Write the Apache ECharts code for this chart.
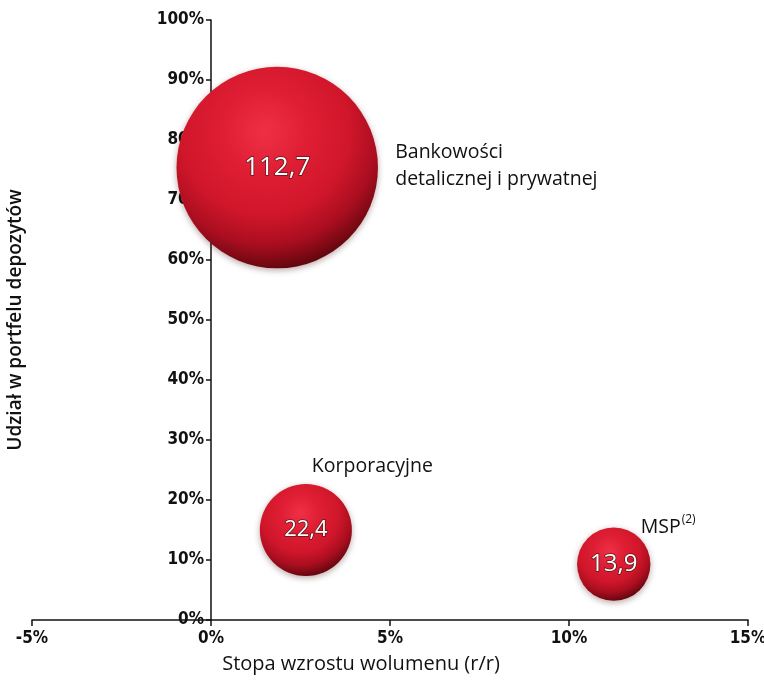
<!DOCTYPE html>
<html>
<head>
<meta charset="utf-8">
<style>
  html, body { margin: 0; padding: 0; background: #ffffff; }
  #chart { width: 764px; height: 685px; }
</style>
<script src="https://cdn.jsdelivr.net/npm/echarts@6/dist/echarts.min.js"></script>
</head>
<body>
<div id="chart"></div>
<script>
// Segmenty: udział w portfelu depozytów vs. dynamika wolumenu, wielkość = wolumen
const segmentNames = ['Bankowości\ndetalicznej i prywatnej', 'Korporacyjne', 'MSP{sup|(2)}'];
const growthPct = [1.85, 2.65, 11.25];     // stopa wzrostu wolumenu r/r, %
const sharePct = [75.4, 15.0, 9.3];        // udział w portfelu depozytów, %
const volumes = [112.7, 22.4, 13.9];       // wolumen depozytów
const xTicks = [-5, 0, 5, 10, 15];
const yTicks = [0, 10, 20, 30, 40, 50, 60, 70, 80, 90, 100];

// placement of the outer segment names relative to each bubble centre
const nameOffsets = [[118, -2], [6, -64], [27, -37]];
const volumeFontSizes = [26, 22, 24];

const gridLeft = 32, gridRight = 16;
const chartWidth = 764;

const tickFont = '"Liberation Sans Narrow", "DejaVu Sans Condensed", "Arial Narrow", sans-serif';
const textFont = '"Open Sans", "Noto Sans", sans-serif';

const sphere = new echarts.graphic.RadialGradient(0.44, 0.32, 0.7, [
  { offset: 0, color: '#ee3045' },
  { offset: 0.3, color: '#df1e34' },
  { offset: 0.6, color: '#d0162a' },
  { offset: 0.8, color: '#aa0e20' },
  { offset: 0.92, color: '#7c0914' },
  { offset: 1, color: '#58060d' }
]);

const bubbleData = volumes.map((v, i) => ({
  value: [growthPct[i], sharePct[i], v],
  label: { fontSize: volumeFontSizes[i] }
}));

const nameData = segmentNames.map((n, i) => ({
  value: [growthPct[i], sharePct[i]],
  name: n,
  label: { offset: nameOffsets[i] }
}));

// the vertical axis sits on x = 0 of the horizontal scale
const plotWidth = chartWidth - gridLeft - gridRight;
const yAxisShift = plotWidth * (0 - xTicks[0]) / (xTicks[xTicks.length - 1] - xTicks[0]);

const chart = echarts.init(document.getElementById('chart'), null, { renderer: 'canvas' });

chart.setOption({
  animation: false,
  backgroundColor: '#ffffff',
  grid: { left: gridLeft, right: gridRight, top: 20, bottom: 65, containLabel: false, outerBoundsMode: 'none' },
  xAxis: {
    type: 'value',
    min: xTicks[0],
    max: xTicks[xTicks.length - 1],
    interval: 5,
    axisLine: { onZero: false, lineStyle: { color: '#111', width: 1.5 } },
    axisTick: { show: true, length: 6, lineStyle: { color: '#111', width: 1.5 } },
    axisLabel: {
      formatter: v => v + '%',
      color: '#111', fontFamily: tickFont, fontWeight: 'bold', fontSize: 17, margin: 10
    },
    splitLine: { show: false }
  },
  yAxis: {
    type: 'value',
    min: yTicks[0],
    max: yTicks[yTicks.length - 1],
    interval: 10,
    offset: -yAxisShift,
    axisLine: { show: true, onZero: false, lineStyle: { color: '#111', width: 1.5 } },
    axisTick: { show: true, length: 5, lineStyle: { color: '#111', width: 1.5 } },
    axisLabel: {
      formatter: v => v + '%',
      color: '#111', fontFamily: tickFont, fontWeight: 'bold', fontSize: 17, margin: 7
    },
    splitLine: { show: false }
  },
  graphic: [
    {
      type: 'text',
      x: 361, y: 654,
      style: {
        text: 'Stopa wzrostu wolumenu (r/r)',
        align: 'center',
        fill: '#111', font: '500 20px ' + textFont
      }
    },
    {
      type: 'text',
      x: 6, y: 320, rotation: Math.PI / 2,
      style: {
        text: 'Udział w portfelu depozytów',
        align: 'center',
        fill: '#111', font: '600 19px ' + textFont
      }
    }
  ],
  series: [
    {
      type: 'scatter',
      data: bubbleData,
      symbol: 'circle',
      symbolSize: d => Math.sqrt(d[2]) * 18.6 + 4,
      itemStyle: {
        color: sphere,
        opacity: 1,
        shadowColor: 'rgba(60,0,0,0.35)',
        shadowBlur: 6,
        shadowOffsetY: 2
      },
      label: {
        show: true,
        position: 'inside',
        formatter: p => String(p.value[2]).replace('.', ','),
        color: '#ffffff',
        fontFamily: textFont,
        textBorderColor: 'rgba(70,20,20,0.85)',
        textBorderWidth: 1.5
      },
      z: 2
    },
    {
      type: 'scatter',
      data: nameData,
      symbolSize: 1,
      itemStyle: { color: 'rgba(0,0,0,0)', opacity: 1 },
      silent: true,
      label: {
        show: true,
        position: 'inside',
        align: 'left',
        verticalAlign: 'middle',
        formatter: p => p.name,
        color: '#111',
        opacity: 1,
        fontFamily: textFont,
        fontWeight: 500,
        fontSize: 19.5,
        lineHeight: 27,
        rich: {
          sup: { fontSize: 12, verticalAlign: 'top', lineHeight: 14, color: '#111', fontFamily: textFont, padding: [0, 0, 8, 1] }
        }
      },
      z: 3
    }
  ]
});
</script>
</body>
</html>
